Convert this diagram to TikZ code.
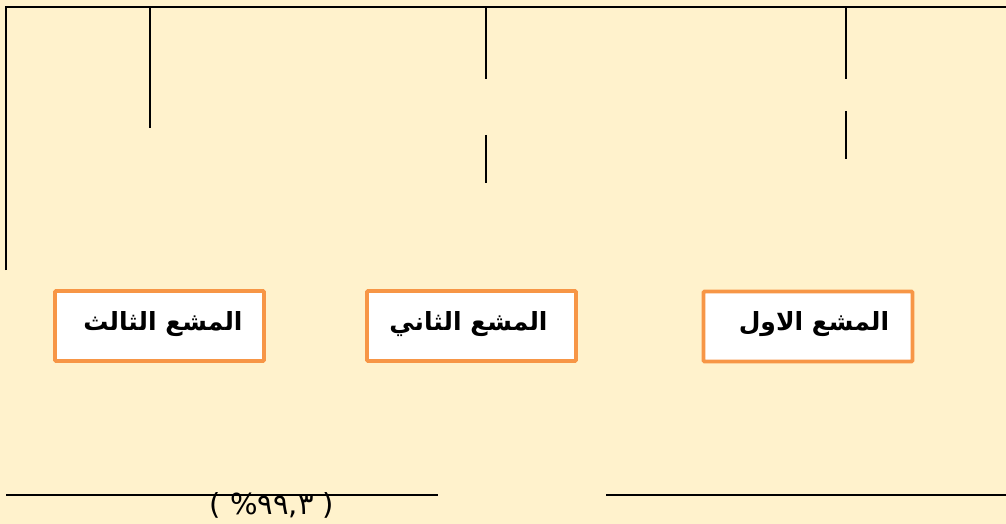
\documentclass[tikz,border=0pt]{standalone}
\usepackage{fontspec}
\newfontfamily\arabicfont[Script=Arabic]{DejaVu Sans}
\newfontfamily\digitfont{DejaVu Sans}
\TeXXeTstate=1
\definecolor{bgcream}{HTML}{FFF2CC}
\definecolor{boxorange}{HTML}{F79646}

\tikzset{
  rayline/.style={black, line width=2pt},
  raybox/.style={draw=boxorange, fill=white, line width=3.6pt, rounded corners=1pt,
                 minimum width=209pt, minimum height=70pt, inner sep=0pt},
  raylabel/.style={anchor=east, inner sep=0pt, font=\arabicfont\bfseries\fontsize{25}{30}\selectfont}
}

\begin{document}
\begin{tikzpicture}[x=1pt,y=-1pt]
\fill[bgcream] (0,0) rectangle (1006,524);
\clip (0,0) rectangle (1006,524);

% top frame and branches
\draw[rayline] (6,270) -- (6,7) -- (1006,7);
\draw[rayline] (150,7) -- (150,128);
\draw[rayline] (486,7) -- (486,79);
\draw[rayline] (486,135) -- (486,183);
\draw[rayline] (846,7) -- (846,79);
\draw[rayline] (846,111) -- (846,159);

% the three boxes
\node[raybox] (third)  at (159.5,326) {};
\node[raybox] (second) at (471.5,326) {};
\node[raybox] (first)  at (808,326.5) {};
\node[raylabel] (thirdlabel)  at ([xshift=-23pt,yshift=2pt]third.east)  {\beginR المشع الثالث\endR};
\node[raylabel] (secondlabel) at ([xshift=-30pt,yshift=2pt]second.east) {\beginR المشع الثاني\endR};
\node[raylabel] (firstlabel)  at ([xshift=-25pt,yshift=2pt]first.east)  {\beginR المشع الاول\endR};

% bottom line with value
\draw[rayline] (6,495) -- (438,495);
\draw[rayline] (606,495) -- (1006,495);
\node[inner sep=0pt, font=\digitfont\fontsize{29}{34}\selectfont] (ratio) at (272,505) {\beginL( \%٩٩,٣ )\endL};
\end{tikzpicture}
\end{document}
